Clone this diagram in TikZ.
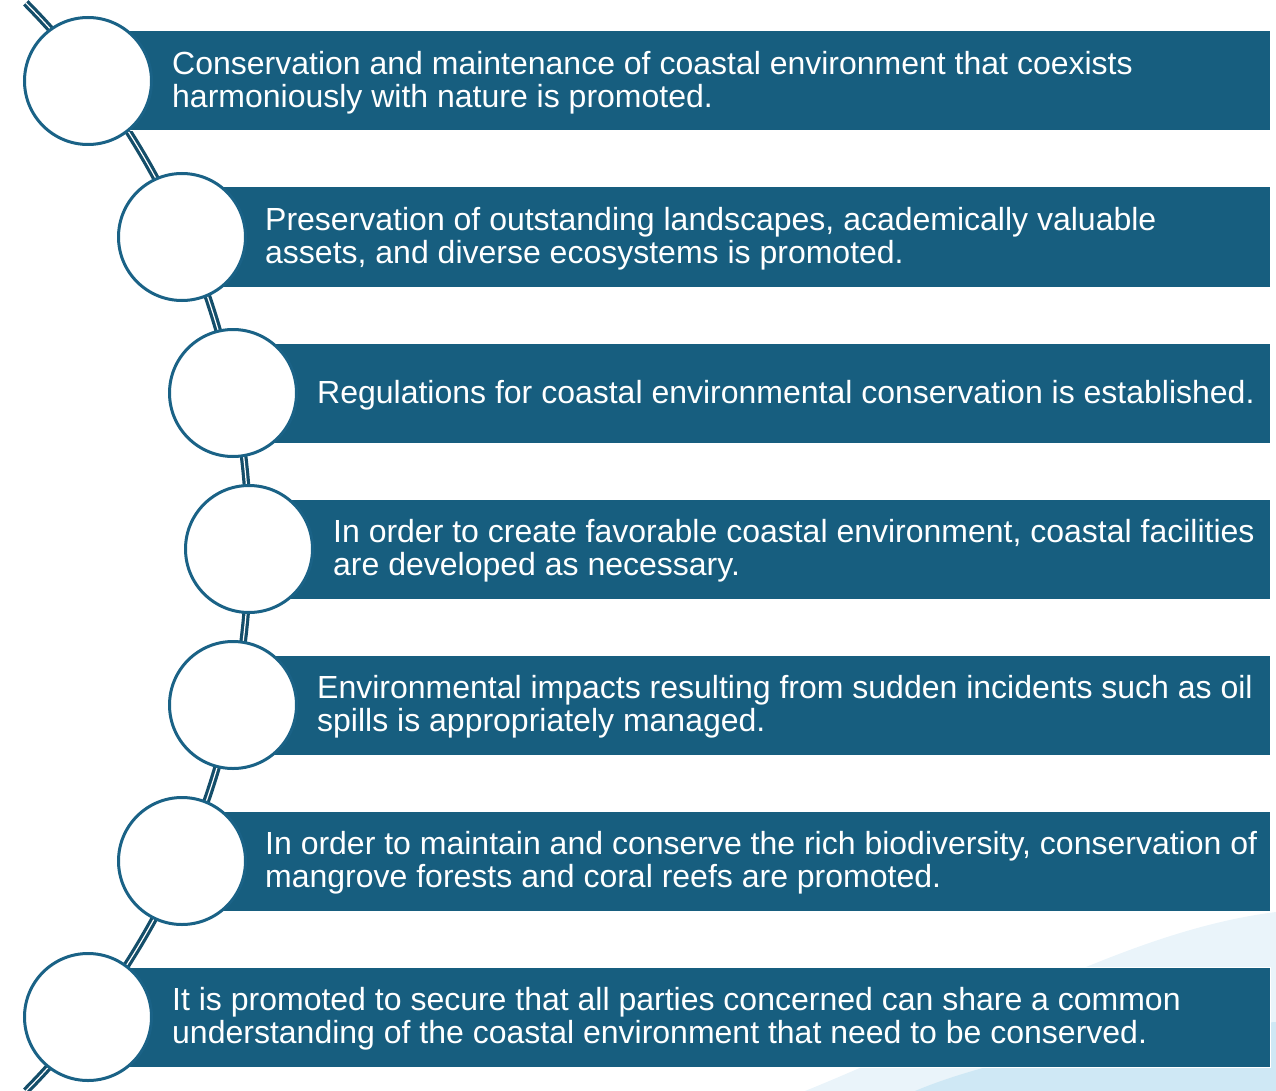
\documentclass[tikz,border=0pt]{standalone}
\usepackage{fontspec}
\setmainfont{Liberation Sans}
\usetikzlibrary{backgrounds}
\definecolor{barblue}{RGB}{23,94,127}
\definecolor{ringblue}{RGB}{26,98,134}
\definecolor{linkblue}{RGB}{20,78,106}
\definecolor{palesky}{RGB}{234,244,250}
\definecolor{lightsky}{RGB}{207,232,245}
\tikzset{
  bar/.style={rectangle,fill=barblue,draw=white,line width=1pt,minimum height=100pt,anchor=west,inner sep=0pt},
  ring/.style={circle,draw=ringblue,line width=3pt,fill=white,minimum size=127pt,inner sep=0pt},
  txt/.style={anchor=west,text=white,align=left,inner sep=0pt,yshift=-2pt,font=\fontsize{32}{33}\selectfont},
  link/.style={draw=linkblue,double=white,double distance=1.2pt,line width=3.2pt}
}
\begin{document}
\begin{tikzpicture}[x=1pt,y=-1pt]
\useasboundingbox (0,0) rectangle (1276,1091);
% circles
\node[ring] (c1) at (88,81) {};
\node[ring] (c2) at (182,237) {};
\node[ring] (c3) at (233,393) {};
\node[ring] (c4) at (249,549) {};
\node[ring] (c5) at (233,705) {};
\node[ring] (c6) at (182,861) {};
\node[ring] (c7) at (88,1017) {};
\begin{pgfonlayer}{background}
% background waves
\fill[palesky] (805,1091) .. controls (980,1020) and (1130,930) .. (1276,912) -- (1276,1091) -- cycle;
\fill[lightsky] (915,1091) .. controls (1000,1055) and (1150,1030) .. (1276,1022) -- (1276,1091) -- cycle;
% the line
\coordinate (hub) at (-526,547);
\draw[link] (hub) ++(-44.6:775) arc[start angle=-44.6,end angle=44.6,radius=775];
% bars
\node[bar,minimum width=1182pt] (b1) at (c1.center) {};
\node[bar,minimum width=1088pt] (b2) at (c2.center) {};
\node[bar,minimum width=1037pt] (b3) at (c3.center) {};
\node[bar,minimum width=1021pt] (b4) at (c4.center) {};
\node[bar,minimum width=1037pt] (b5) at (c5.center) {};
\node[bar,minimum width=1088pt] (b6) at (c6.center) {};
\node[bar,minimum width=1182pt] (b7) at (c7.center) {};
\end{pgfonlayer}
% texts
\node[txt] (t1) at ([xshift=84pt]c1.center) {Conservation and maintenance of coastal environment that coexists\\harmoniously with nature is promoted.};
\node[txt] (t2) at ([xshift=83pt]c2.center) {Preservation of outstanding landscapes, academically valuable\\assets, and diverse ecosystems is promoted.};
\node[txt] (t3) at ([xshift=84pt]c3.center) {Regulations for coastal environmental conservation is established.};
\node[txt] (t4) at ([xshift=84pt]c4.center) {In order to create favorable coastal environment, coastal facilities\\are developed as necessary.};
\node[txt] (t5) at ([xshift=84pt]c5.center) {Environmental impacts resulting from sudden incidents such as oil\\spills is appropriately managed.};
\node[txt] (t6) at ([xshift=83pt]c6.center) {In order to maintain and conserve the rich biodiversity, conservation of\\mangrove forests and coral reefs are promoted.};
\node[txt] (t7) at ([xshift=84pt]c7.center) {It is promoted to secure that all parties concerned can share a common\\understanding of the coastal environment that need to be conserved.};
\end{tikzpicture}
\end{document}
